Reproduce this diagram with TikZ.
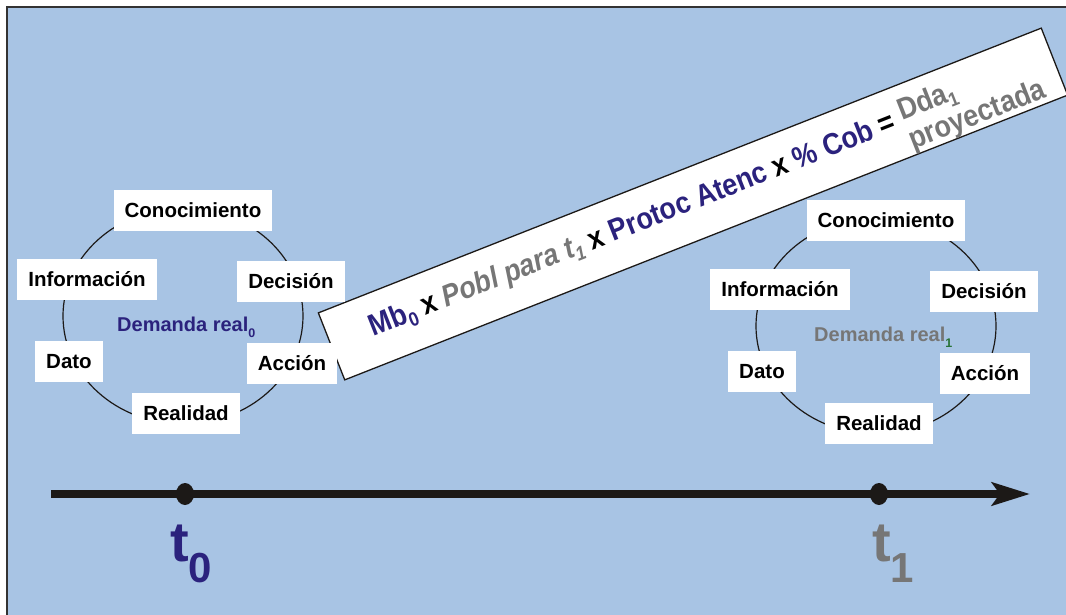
\documentclass[tikz,border=0pt]{standalone}
\usepackage{fontspec}
\setmainfont{Liberation Sans}
\usetikzlibrary{arrows.meta, shapes.geometric}

\definecolor{bgblue}{RGB}{168,196,228}
\definecolor{navy}{RGB}{43,34,125}
\definecolor{slate}{RGB}{118,118,118}
\definecolor{subgreen}{RGB}{40,115,55}
\definecolor{inkdark}{RGB}{28,25,23}

% lowered, smaller text used for subscripts: #1 drop, #2 size, #3 text
\newcommand\lowered[3]{\raisebox{-#1}{\fontsize{#2}{#2}\selectfont #3}}

\begin{document}
\begin{tikzpicture}[x=1pt, y=-1pt,
  lbl/.style={fill=white, inner xsep=11pt, inner ysep=0pt, minimum height=41pt,
    text height=14.7pt, text depth=0pt, font=\fontsize{20.5}{22}\selectfont\bfseries},
  ring/.style={draw=inkdark, line width=1.2pt, ellipse, minimum width=240pt,
    minimum height=216pt, inner sep=0pt},
  dot/.style={ellipse, fill=inkdark, minimum width=18pt, minimum height=22pt, inner sep=0pt},
  demand/.style={anchor=base west, inner sep=0pt, font=\fontsize{20}{22}\selectfont\bfseries},
  tick/.style={anchor=base west, inner sep=0pt, font=\bfseries}]

\useasboundingbox (0,0) rectangle (1066,615);
\clip (0,0) rectangle (1066,615);

% background panel with its dark top and left edges
\fill[bgblue] (7,7) rectangle (1066,615);
\draw[line width=1.5pt, black!80] (7,615) -- (7,7) -- (1066,7);

% slanted banner with the projection formula
\node[draw=inkdark, line width=1.3pt, fill=white, rotate=21.5, minimum width=777pt,
  minimum height=72pt, inner sep=0pt] (banner) at (693,204) {};
\begin{scope}[shift={(693,204)}, rotate=21.5]
  \node[anchor=base west, transform shape, yscale=1.12, inner sep=0pt,
    font=\fontsize{27}{27}\selectfont\bfseries] (formula) at (-346,6)
    {{\color{navy}Mb\lowered{5pt}{17.5}{0}} x
     {\color{slate}\itshape Pobl para t\lowered{5pt}{17.5}{1}} x
     {\color{navy}Protoc Atenc} x {\color{navy}\% Cob} =
     {\color{slate}\raisebox{6pt}{\begin{tabular}[t]{@{}l@{}}Dda\lowered{5pt}{17.5}{1}\\proyectada\end{tabular}}}};
\end{scope}

% cycle at t0
\node[ring] (ring0) at (183,316) {};
\node[demand, text=navy] (dem0) at (117,331) {Demanda real\lowered{6pt}{12.5}{0}};
\node[lbl] (con0) at (193,210.5) {Conocimiento};
\node[lbl] (inf0) at (87,279) {Información};
\node[lbl] (dec0) at (291,281.5) {Decisión};
\node[lbl] (dat0) at (69,361.5) {Dato};
\node[lbl] (acc0) at (292,363) {Acción};
\node[lbl] (rea0) at (186,413) {Realidad};

% cycle at t1
\node[ring] (ring1) at (876,326) {};
\node[demand, text=slate] (dem1) at (814,341) {Demanda real\lowered{6pt}{12.5}{\color{subgreen}1}};
\node[lbl] (con1) at (886,220.5) {Conocimiento};
\node[lbl] (inf1) at (780,289) {Información};
\node[lbl] (dec1) at (984,291.5) {Decisión};
\node[lbl] (dat1) at (762,371.5) {Dato};
\node[lbl] (acc1) at (985,373) {Acción};
\node[lbl] (rea1) at (879,423) {Realidad};

% time axis
\coordinate (axstart) at (51,494);
\coordinate (axend) at (1030,494);
\draw[inkdark, line width=8.7pt, -{Stealth[length=38pt, width=23pt, inset=8pt]}] (axstart) -- (axend);
\node[dot] (p0) at (185,494) {};
\node[dot] (p1) at (879,494) {};
\node[tick, text=navy] (t0) at (170,561) {\fontsize{56}{56}\selectfont t\lowered{21pt}{42}{0}};
\node[tick, text=slate] (t1) at (872,561) {\fontsize{56}{56}\selectfont t\lowered{21pt}{42}{1}};

\end{tikzpicture}
\end{document}
